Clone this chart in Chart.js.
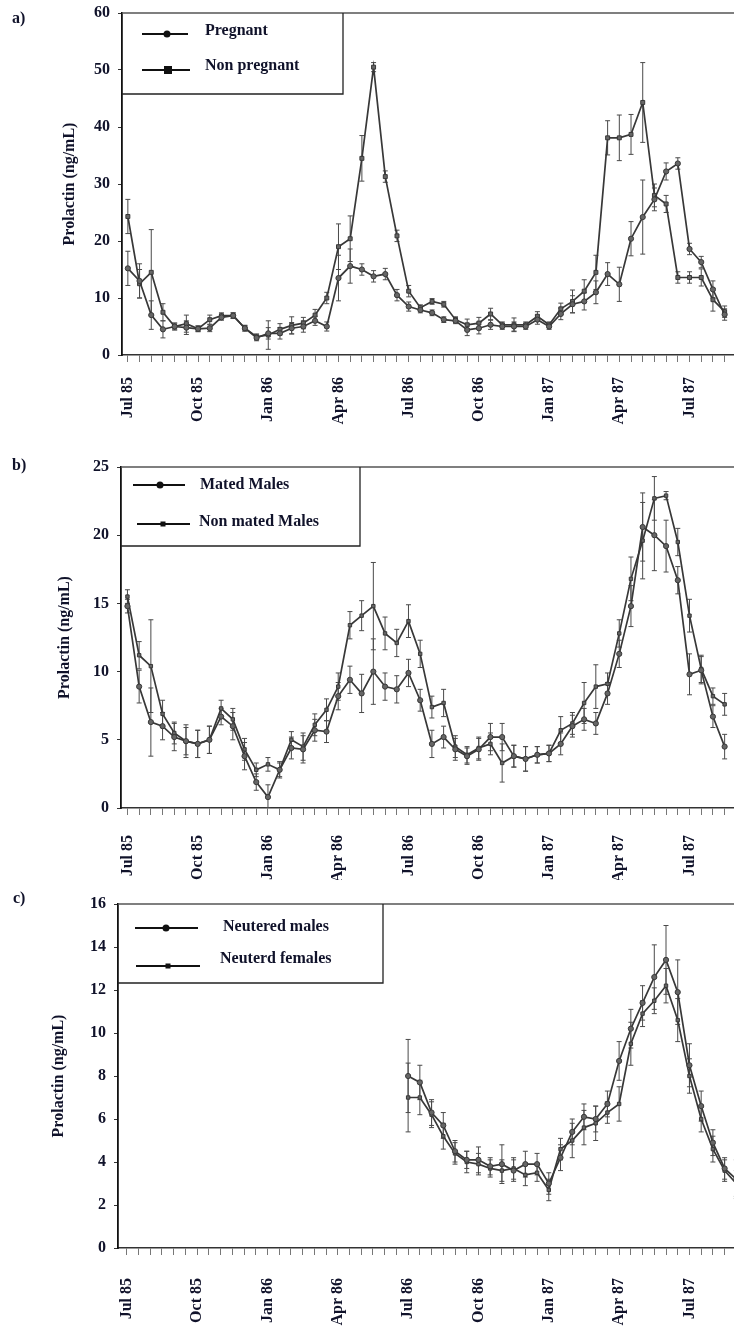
<!DOCTYPE html>
<html>
<head>
<meta charset="utf-8">
<title>Prolactin</title>
<script src="https://cdn.jsdelivr.net/npm/chart.js@4.4.1/dist/chart.umd.min.js"></script>
<style>
  body { margin: 0; background: #fff; }
  canvas.panel { position: absolute; left: 0; }
</style>
</head>
<body>
<canvas id="chartA" class="panel" width="734" height="440" style="top:0"></canvas>
<canvas id="chartB" class="panel" width="734" height="440" style="top:440px"></canvas>
<canvas id="chartC" class="panel" width="734" height="451" style="top:880px"></canvas>
<script>
// x values are half-month sampling slots counted from Jul 85 (slot 0)
const monthLabels = ["Jul 85", "Oct 85", "Jan 86", "Apr 86", "Jul 86", "Oct 86", "Jan 87", "Apr 87", "Jul 87"];
const slotsPerQuarter = 6;
const slotCount = 52;

// a) females
const pregnant = [15.2, 13.0, 7.0, 4.5, 5.0, 4.8, 4.6, 4.7, 6.6, 6.9, 4.7, 3.0, 3.8, 3.8, 4.7, 5.0,
  6.0, 5.0, 13.5, 15.6, 15.0, 13.8, 14.2, 10.5, 8.5, 7.9, 7.4, 6.2, 6.0, 4.4, 4.7, 5.3,
  5.0, 5.0, 5.0, 6.2, 5.0, 7.2, 8.9, 9.4, 11.0, 14.2, 12.4, 20.4, 24.2, 27.3, 32.2, 33.6,
  18.6, 16.3, 11.5, 7.1];
const pregnantErr = [3.0, 3.0, 2.5, 1.5, 0.6, 1.2, 0.5, 0.6, 0.5, 0.5, 0.5, 0.5, 1.0, 1.0, 1.0, 1.0,
  0.8, 0.8, 4.0, 3.0, 1.0, 1.0, 1.0, 1.0, 0.8, 0.5, 0.5, 0.5, 0.5, 1.0, 1.0, 0.8,
  0.5, 0.8, 0.5, 0.8, 0.5, 1.0, 1.5, 1.5, 2.0, 2.0, 3.0, 3.0, 6.5, 2.0, 1.5, 1.0,
  1.0, 1.0, 1.5, 1.0];
const nonPregnant = [24.3, 12.5, 14.5, 7.5, 5.0, 5.5, 4.6, 6.2, 6.9, 6.9, 4.7, 3.2, 3.5, 4.5, 5.2, 5.6,
  7.0, 10.0, 19.0, 20.4, 34.5, 50.5, 31.3, 20.9, 11.2, 8.3, 9.4, 8.9, 6.2, 5.3, 5.6, 7.2,
  5.3, 5.3, 5.3, 6.8, 5.3, 8.1, 9.4, 11.2, 14.5, 38.1, 38.1, 38.7, 44.3, 28.0, 26.5, 13.6,
  13.6, 13.6, 9.7, 7.6];
const nonPregnantErr = [3.0, 2.5, 7.5, 1.5, 0.6, 1.5, 0.5, 0.8, 0.5, 0.5, 0.5, 0.5, 2.5, 1.0, 1.5, 1.0,
  1.0, 1.0, 4.0, 4.0, 4.0, 0.8, 1.0, 1.0, 1.0, 0.5, 0.5, 0.5, 0.5, 1.0, 1.0, 1.0,
  0.5, 1.2, 0.5, 0.8, 0.5, 1.0, 2.0, 2.0, 3.0, 3.0, 4.0, 3.5, 7.0, 2.0, 1.5, 1.0,
  1.0, 1.5, 2.0, 1.0];

// b) intact males
const matedMales = [14.8, 8.9, 6.3, 6.0, 5.2, 4.9, 4.7, 5.0, 6.7, 6.0, 3.8, 1.9, 0.8, 2.8, 4.4, 4.3,
  5.7, 5.6, 8.2, 9.4, 8.4, 10.0, 8.9, 8.7, 9.9, 7.9, 4.7, 5.2, 4.3, 3.8, 4.3, 5.2,
  5.2, 3.8, 3.6, 3.9, 4.0, 4.7, 6.0, 6.5, 6.2, 8.4, 11.3, 14.8, 20.6, 20.0, 19.2, 16.7,
  9.8, 10.1, 6.7, 4.5];
const matedMalesErr = [0.5, 1.2, 2.5, 1.0, 1.0, 1.0, 1.0, 1.0, 0.6, 1.0, 1.0, 0.6, 0.9, 0.6, 0.8, 1.0,
  0.8, 0.8, 1.0, 1.0, 1.4, 2.4, 1.0, 1.0, 1.0, 0.8, 1.0, 0.8, 0.8, 0.6, 0.8, 1.0,
  1.0, 0.8, 0.9, 0.6, 0.6, 0.8, 0.8, 0.8, 0.8, 0.8, 1.0, 1.5, 2.5, 2.6, 1.9, 1.0,
  1.5, 1.0, 0.8, 0.9];
const nonMatedMales = [15.5, 11.2, 10.4, 6.9, 5.5, 4.9, 4.7, 5.0, 7.3, 6.5, 4.3, 2.8, 3.2, 2.8, 5.0, 4.5,
  6.1, 7.2, 8.9, 13.4, 14.1, 14.8, 12.8, 12.1, 13.7, 11.3, 7.4, 7.7, 4.5, 3.9, 4.4, 4.7,
  3.3, 3.8, 3.6, 3.9, 4.0, 5.7, 6.2, 7.7, 8.9, 9.1, 12.8, 16.8, 19.6, 22.7, 22.9, 19.5,
  14.1, 10.2, 8.2, 7.6];
const nonMatedMalesErr = [0.5, 1.0, 3.4, 1.0, 0.8, 1.2, 1.0, 1.0, 0.6, 0.8, 0.8, 0.5, 0.5, 0.5, 0.6, 1.0,
  0.8, 0.8, 1.0, 1.0, 1.1, 3.2, 1.2, 1.0, 1.2, 1.0, 0.8, 1.0, 0.8, 0.6, 0.8, 0.8,
  1.4, 0.8, 0.9, 0.6, 0.6, 1.0, 0.8, 1.5, 1.6, 0.8, 1.0, 1.6, 2.8, 1.6, 0.3, 1.0,
  1.2, 1.0, 0.6, 0.8];

// c) neutered animals, sampled from Jul 86 (slot 24)
const neuteredStart = 24;
const neuteredMales = [8.0, 7.7, 6.3, 5.7, 4.5, 4.1, 4.1, 3.8, 3.9, 3.6, 3.9, 3.9, 3.0, 4.2, 5.4, 6.1,
  6.0, 6.7, 8.7, 10.2, 11.4, 12.6, 13.4, 11.9, 8.5, 6.6, 4.9, 3.7, 3.2];
const neuteredMalesErr = [1.7, 0.8, 0.6, 0.6, 0.5, 0.4, 0.6, 0.4, 0.9, 0.5, 0.6, 0.5, 0.5, 0.6, 0.6, 0.6,
  0.6, 0.6, 0.9, 0.9, 0.8, 1.5, 1.6, 1.5, 1.0, 0.7, 0.6, 0.5, 0.9];
const neuteredFemales = [7.0, 7.0, 6.2, 5.2, 4.4, 4.0, 3.9, 3.7, 3.6, 3.7, 3.4, 3.5, 2.7, 4.6, 5.0, 5.6,
  5.8, 6.3, 6.7, 9.5, 10.9, 11.5, 12.2, 10.6, 8.0, 6.0, 4.6, 3.6, 3.0];
const neuteredFemalesErr = [1.6, 0.8, 0.6, 0.6, 0.5, 0.5, 0.5, 0.4, 0.5, 0.5, 0.5, 0.4, 0.5, 0.5, 0.8, 0.8,
  0.8, 0.5, 0.8, 1.0, 0.6, 0.6, 0.8, 1.0, 0.8, 0.6, 0.6, 0.5, 0.6];

const INK = "#10122a";
const SERIF = "'Liberation Serif', 'Times New Roman', serif";

function toPoints(values, start) {
  return values.map((v, k) => ({ x: start + k, y: v }));
}

function series(label, values, errors, start, pointStyle, radius) {
  return {
    label,
    data: toPoints(values, start),
    errors,
    borderColor: "#383838",
    borderWidth: 1.7,
    pointStyle,
    pointRadius: radius,
    pointBackgroundColor: "#666",
    pointBorderColor: "#383838",
    pointBorderWidth: 1,
    tension: 0,
  };
}

// vertical SEM bars with small caps, drawn under the markers
const errorBars = {
  id: "errorBars",
  beforeDatasetsDraw(chart) {
    const { ctx, chartArea, scales } = chart;
    ctx.save();
    ctx.beginPath();
    ctx.rect(chartArea.left, chartArea.top - 2, chartArea.right - chartArea.left, chartArea.bottom - chartArea.top + 2);
    ctx.clip();
    ctx.strokeStyle = "#4a4a4a";
    ctx.lineWidth = 1;
    chart.data.datasets.forEach((ds, di) => {
      const meta = chart.getDatasetMeta(di);
      meta.data.forEach((pt, j) => {
        const e = ds.errors[j];
        const v = ds.data[j].y;
        const yTop = scales.y.getPixelForValue(v + e);
        const yBot = scales.y.getPixelForValue(Math.max(0, v - e));
        ctx.beginPath();
        ctx.moveTo(pt.x, yTop); ctx.lineTo(pt.x, yBot);
        ctx.moveTo(pt.x - 2.5, yTop); ctx.lineTo(pt.x + 2.5, yTop);
        ctx.moveTo(pt.x - 2.5, yBot); ctx.lineTo(pt.x + 2.5, yBot);
        ctx.stroke();
      });
    });
    ctx.restore();
  }
};

// top frame line, boxed legend and panel letter
const panelDecor = {
  id: "panelDecor",
  afterDraw(chart, args, opts) {
    const { ctx, chartArea } = chart;
    ctx.save();
    ctx.strokeStyle = "#555";
    ctx.lineWidth = 1.5;
    ctx.beginPath();
    ctx.moveTo(chartArea.left, chartArea.top);
    ctx.lineTo(chartArea.right, chartArea.top);
    ctx.stroke();

    const b = opts.box;
    ctx.fillStyle = "#fff";
    ctx.fillRect(chartArea.left + 1, chartArea.top + 1, b.right - chartArea.left - 1, b.bottom - chartArea.top - 1);
    ctx.strokeStyle = "#222";
    ctx.lineWidth = 1.3;
    ctx.beginPath();
    ctx.moveTo(b.right, chartArea.top);
    ctx.lineTo(b.right, b.bottom);
    ctx.lineTo(chartArea.left, b.bottom);
    ctx.stroke();

    ctx.font = "bold 16px " + SERIF;
    ctx.textBaseline = "middle";
    ctx.textAlign = "left";
    opts.entries.forEach(en => {
      ctx.strokeStyle = "#111";
      ctx.lineWidth = 1.8;
      ctx.beginPath();
      ctx.moveTo(en.x1, en.y);
      ctx.lineTo(en.x2, en.y);
      ctx.stroke();
      ctx.fillStyle = "#111";
      if (en.marker === "circle") {
        ctx.beginPath();
        ctx.arc(en.mx, en.y, 3.5, 0, Math.PI * 2);
        ctx.fill();
      } else {
        ctx.fillRect(en.mx - en.size / 2, en.y - en.size / 2, en.size, en.size);
      }
      ctx.fillStyle = INK;
      ctx.fillText(en.label, en.tx, en.ty);
    });

    ctx.fillStyle = INK;
    ctx.fillText(opts.letter, opts.letterX, opts.letterY);
    ctx.restore();
  }
};

const slots = Array.from({ length: slotCount }, (_, i) => i);

function buildChart(id, cfg) {
  const canvas = document.getElementById(id);
  const font = { family: SERIF, size: 16, weight: "bold" };
  return new Chart(canvas, {
    type: "line",
    data: { datasets: cfg.datasets },
    options: {
      responsive: false,
      animation: false,
      layout: { autoPadding: false, padding: { left: cfg.padLeft, top: cfg.top, right: 0, bottom: 0 } },
      plugins: {
        legend: { display: false },
        tooltip: { enabled: false },
        panelDecor: cfg.decor
      },
      scales: {
        x: {
          type: "linear",
          min: cfg.xMin,
          max: 51.8,
          afterBuildTicks: s => { s.ticks = slots.map(v => ({ value: v })); },
          afterFit: s => {
            s.height = canvas.height - cfg.bottom;
            // rotated labels would otherwise reserve room on the right
            s.paddingLeft = 0;
            s.paddingRight = 0;
          },
          ticks: {
            autoSkip: false,
            minRotation: 90,
            maxRotation: 90,
            padding: cfg.labelGap,
            font,
            color: INK,
            callback: v => (v % slotsPerQuarter === 0 ? monthLabels[v / slotsPerQuarter] : "")
          },
          grid: { drawOnChartArea: false, tickLength: 7, color: "#777" },
          border: { color: "#333", width: 1.6 }
        },
        y: {
          min: 0,
          max: cfg.yMax,
          afterFit: s => {
            s.width = cfg.left - cfg.padLeft;
            s.paddingTop = 0;
            s.paddingBottom = 0;
          },
          ticks: { stepSize: cfg.yStep, padding: 8, font, color: INK },
          grid: { drawOnChartArea: false, tickLength: 4, color: "#333" },
          border: { color: "#111", width: 1.8 },
          title: {
            display: true,
            text: "Prolactin (ng/mL)",
            font,
            color: INK,
            padding: { top: 8, bottom: 0 }
          }
        }
      }
    },
    plugins: [errorBars, panelDecor]
  });
}

buildChart("chartA", {
  left: 122, top: 13, bottom: 355, padLeft: 52, xMin: -0.5, yMax: 60, yStep: 10, labelGap: 15,
  datasets: [
    series("Pregnant", pregnant, pregnantErr, 0, "circle", 2.6),
    series("Non pregnant", nonPregnant, nonPregnantErr, 0, "rect", 2.8)
  ],
  decor: {
    letter: "a)", letterX: 12, letterY: 19,
    box: { right: 343, bottom: 94 },
    entries: [
      { label: "Pregnant", marker: "circle", x1: 142, x2: 188, mx: 167, y: 34, tx: 205, ty: 31 },
      { label: "Non pregnant", marker: "rect", size: 8, x1: 142, x2: 190, mx: 168, y: 70, tx: 205, ty: 66 }
    ]
  }
});

buildChart("chartB", {
  left: 121, top: 27, bottom: 368, padLeft: 47, xMin: -0.55, yMax: 25, yStep: 5, labelGap: 20,
  datasets: [
    series("Mated Males", matedMales, matedMalesErr, 0, "circle", 2.6),
    series("Non mated Males", nonMatedMales, nonMatedMalesErr, 0, "rect", 2.4)
  ],
  decor: {
    letter: "b)", letterX: 12, letterY: 26,
    box: { right: 360, bottom: 106 },
    entries: [
      { label: "Mated Males", marker: "circle", x1: 133, x2: 185, mx: 160, y: 45, tx: 200, ty: 45 },
      { label: "Non mated Males", marker: "rect", size: 5, x1: 137, x2: 190, mx: 163, y: 84, tx: 199, ty: 82 }
    ]
  }
});

buildChart("chartC", {
  left: 118, top: 24, bottom: 368, padLeft: 41, xMin: -0.75, yMax: 16, yStep: 2, labelGap: 23,
  datasets: [
    series("Neutered males", neuteredMales, neuteredMalesErr, neuteredStart, "circle", 2.6),
    series("Neuterd females", neuteredFemales, neuteredFemalesErr, neuteredStart, "rect", 2.4)
  ],
  decor: {
    letter: "c)", letterX: 13, letterY: 19,
    box: { right: 383, bottom: 103 },
    entries: [
      { label: "Neutered males", marker: "circle", x1: 135, x2: 198, mx: 166, y: 48, tx: 223, ty: 47 },
      { label: "Neuterd females", marker: "rect", size: 5, x1: 136, x2: 200, mx: 168, y: 86, tx: 220, ty: 79 }
    ]
  }
});
</script>
</body>
</html>
